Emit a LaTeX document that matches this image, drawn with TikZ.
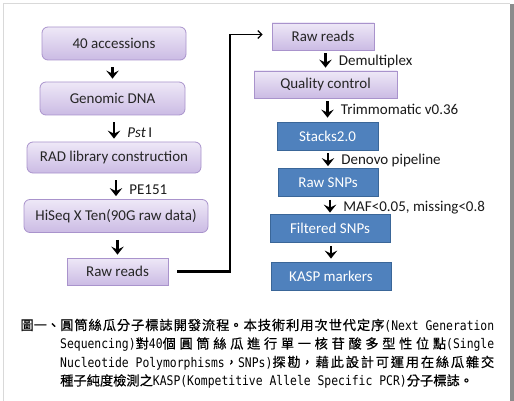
\documentclass[tikz,border=0pt]{standalone}
\usepackage{fontspec}
\setmainfont{Carlito}
\newfontfamily\cjkfont[FakeBold=0.5]{Noto Sans CJK TC}
\newfontfamily\capmono[FakeStretch=0.86]{DejaVu Sans Mono}
\newcommand{\en}[1]{{\capmono #1}}
\XeTeXlinebreaklocale "zh"
\XeTeXlinebreakskip=0pt plus 1fil
\usetikzlibrary{arrows.meta}
\definecolor{lavtop}{HTML}{EEE8F7}
\definecolor{lavbot}{HTML}{CBBBE4}
\definecolor{lavline}{HTML}{A993CC}
\definecolor{stepblue}{HTML}{4F81BD}
\definecolor{stepblueline}{HTML}{3A6698}

\begin{document}
\begin{tikzpicture}[x=1pt, y=-1pt, font=\fontsize{15}{18}\selectfont]
    % Define styles
    \tikzstyle{pbox} = [rectangle, rounded corners=6pt, minimum height=33pt, text centered, draw=lavline, top color=lavtop, bottom color=lavbot, line width=0.8pt, text=black!85, inner sep=0pt]
    \tikzstyle{pboxsq} = [pbox, sharp corners, minimum height=27pt]
    \tikzstyle{bbox} = [rectangle, minimum height=28pt, text centered, draw=stepblueline, fill=stepblue, line width=0.8pt, text=white, inner sep=0pt]
    \tikzstyle{arrow} = [line width=2.8pt, -{Stealth[length=8pt, width=12.5pt, inset=3pt]}]
    \tikzstyle{steplabel} = [right, xshift=12pt, inner sep=0pt, pos=0.6, text=black!90]
    \tikzstyle{link} = [line width=2.2pt]
    \tikzstyle{linkarrow} = [line width=1.2pt, -{Straight Barb[length=4pt, width=8pt]}]

    \useasboundingbox (0,0) rectangle (514,401);

    % Frame
    \draw [black!15, line width=0.8pt] (3.5,401) -- (3.5,3.5) -- (510,3.5);
    \fill [black!45] (510,4) rectangle (513.5,401);

    % Left column
    \node (acc) [pbox, minimum width=144pt] at (114,43.5) {40 accessions};
    \node (gdna) [pbox, minimum width=145pt] at (112.5,98.5) {Genomic DNA};
    \node (rad) [pbox, minimum width=174pt, minimum height=31pt] at (114,157.5) {RAD library construction};
    \node (hiseq) [pbox, minimum width=184pt] at (116,216) {HiSeq X Ten(90G raw data)};
    \node (rawL) [pboxsq, minimum width=101pt] at (117.5,271.5) {Raw reads};

    % Right column
    \node (rawR) [pboxsq, minimum width=102pt] at (323,36.5) {Raw reads};
    \node (qc) [pboxsq, minimum width=143pt] at (325.5,84.5) {Quality control};
    \node (stacks) [bbox, minimum width=101pt] at (327.5,136) {Stacks2.0};
    \node (rawsnp) [bbox, minimum width=100pt] at (328,182.5) {Raw SNPs};
    \node (filt) [bbox, minimum width=120pt] at (330,228) {Filtered SNPs};
    \node (kasp) [bbox, minimum width=120pt] at (331,276) {KASP markers};

    % Arrows, left
    \draw [arrow, shorten <=7pt, shorten >=3pt] (acc.south -| gdna.north) -- (gdna.north);
    \draw [arrow, shorten <=7pt, shorten >=3pt] (gdna.south -| rad.north) -- node[steplabel, pos=0.67] {\textit{Pst}\,I} (rad.north);
    \draw [arrow, shorten <=7pt, shorten >=3pt] (rad.south -| hiseq.north) -- node[steplabel, pos=0.64] {PE151} (hiseq.north);
    \draw [arrow, shorten <=7pt, shorten >=3pt] (hiseq.south -| rawL.north) -- (rawL.north);

    % Arrows, right
    \draw [arrow, shorten <=3pt, shorten >=3pt] (rawR.south -| qc.north) -- node[steplabel, pos=0.57] {Demultiplex} (qc.north);
    \draw [arrow, shorten <=3pt, shorten >=4pt] (qc.south -| stacks.north) -- node[steplabel, pos=0.46] {Trimmomatic v0.36} (stacks.north);
    \draw [arrow, shorten <=3pt, shorten >=2pt] (stacks.south -| rawsnp.north) -- node[steplabel, pos=0.58] {Denovo pipeline} (rawsnp.north);
    \draw [arrow, shorten <=3pt, shorten >=1pt] (rawsnp.south -| filt.north) -- node[steplabel, pos=0.67] {MAF<0.05, missing<0.8} (filt.north);
    \draw [arrow, shorten <=4pt, shorten >=3pt] (filt.south -| kasp.north) -- (kasp.north);

    % Link between the columns
    \coordinate (corner) at (230,34.5);
    \draw [link, shorten <=9pt] (rawL.east) -| (corner);
    \draw [linkarrow, shorten >=9pt] (corner) -- (corner -| rawR.west);

    % Caption
    \node (caption) [anchor=base west, text width=434pt, align=justify, inner sep=0pt, font=\cjkfont\fontsize{13.25}{18.5}\selectfont] at (60,330) {%
        \noindent\llap{圖一、}圓筒絲瓜分子標誌開發流程。本技術利用次世代定序\en{(Next Generation}\linebreak
        \en{Sequencing)}對\en{40}個圓筒絲瓜進行單一核苷酸多型性位點\en{(Single}\linebreak
        \en{Nucleotide Polymorphisms}，\en{SNPs)}探勘，藉此設計可運用在絲瓜雜交\linebreak
        種子純度檢測之\en{KASP(Kompetitive Allele Specific PCR)}分子標誌。\hspace*{\fill}\par};
\end{tikzpicture}
\end{document}
